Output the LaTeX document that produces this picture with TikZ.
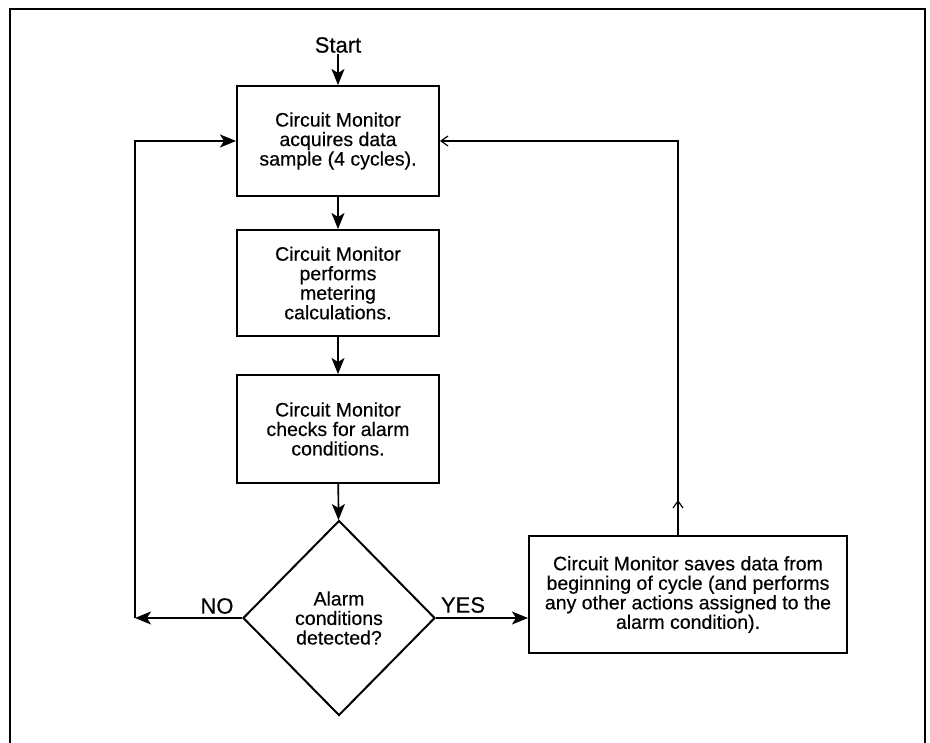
\documentclass[tikz,border=0pt]{standalone}
\usepackage{fontspec}
\setmainfont{Liberation Sans}
\newfontfamily\heavyfont[FakeBold=0.35]{Liberation Sans}
\usetikzlibrary{shapes.geometric,arrows.meta}
\begin{document}
\begin{tikzpicture}[x=1pt,y=-1pt,
  box/.style={draw,line width=2pt,inner sep=0pt,align=center,font=\heavyfont\fontsize{19.5}{19.5}\selectfont},
  conn/.style={line width=1.7pt,-{Stealth[length=16pt,width=13pt,inset=4pt]}},
  backline/.style={line width=1.6pt,-{Straight Barb[length=7pt,width=10pt,line width=1.2pt]}},
  lab/.style={font=\heavyfont\fontsize{22}{22}\selectfont,inner sep=1pt}]
\useasboundingbox (0,0) rectangle (930,743);
\draw[line width=2.2pt] (10,743) -- (10,9) -- (925,9) -- (925,743);

\node[lab] (start) at (338,45) {Start};
\node[box,minimum width=202pt,minimum height=110pt] (b1) at (338,141) {Circuit Monitor\\acquires data\\sample (4 cycles).};
\node[box,minimum width=202pt,minimum height=106pt] (b2) at (338,283) {Circuit Monitor\\performs\\metering\\calculations.};
\node[box,minimum width=202pt,minimum height=108pt] (b3) at (338,429) {Circuit Monitor\\checks for alarm\\conditions.};
\node[box,shape=diamond,minimum width=192pt,minimum height=195pt] (d) at (339,618) {Alarm\\conditions\\detected?};
\node[box,minimum width=318pt,minimum height=117pt] (b4) at (688,594.5) {Circuit Monitor saves data from\\beginning of cycle (and performs\\any other actions assigned to the\\alarm condition).};

\node[lab] (no) at (217,606) {NO};
\node[lab] (yes) at (463,605) {YES};

\coordinate (nl) at (135,618);
\coordinate (upx) at (678,300);
\coordinate (m1) at (678,516);
\coordinate (m2) at (678,500);

\draw[conn] (start) -- (b1);
\draw[conn] (b1) -- (b2);
\draw[conn] (b2) -- (b3);
\draw[conn] (b3) -- (d);
\draw[conn] (d.west) -- (nl);
\draw[conn] (nl) |- (b1.west);
\draw[conn] (d.east) -- (d.east -| b4.west);
\draw[backline] (b4.north -| upx) |- (b1.east);
\draw[backline] (m1) -- (m2);
\end{tikzpicture}
\end{document}
